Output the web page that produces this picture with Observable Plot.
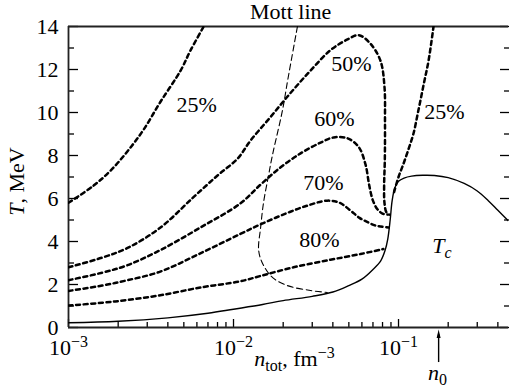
<!DOCTYPE html>
<html><head><meta charset="utf-8">
<script src="https://cdn.jsdelivr.net/npm/d3@7"></script>
<script src="https://cdn.jsdelivr.net/npm/@observablehq/plot@0.6"></script>
<style>
body{margin:0;background:#fff}
#chart svg, #chart text, #chart tspan { font-family: "Liberation Serif", "Times New Roman", serif !important; }
</style>
</head><body><div id="chart"></div>
<script>
// ---- data (n_tot in fm^-3, T in MeV) ----
const tcX = [0.001, 0.002, 0.004, 0.007, 0.01, 0.015, 0.02, 0.03, 0.04, 0.05, 0.06, 0.07, 0.078, 0.083, 0.086, 0.089, 0.0915, 0.095, 0.1, 0.108, 0.12, 0.14, 0.165, 0.2, 0.25, 0.3, 0.35, 0.4, 0.464];
const tcT = [0.22, 0.29, 0.45, 0.66, 0.85, 1.07, 1.25, 1.45, 1.65, 1.95, 2.25, 2.7, 3.1, 3.6, 4.1, 5.0, 5.9, 6.5, 6.8, 6.95, 7.04, 7.08, 7.07, 6.97, 6.7, 6.35, 5.9, 5.45, 4.95];

const mottX = [0.0244, 0.0213, 0.0198, 0.0172, 0.0163, 0.0152, 0.0146, 0.0142, 0.0150, 0.0172, 0.0212, 0.0293, 0.037];
const mottT = [14, 11.5, 10.1, 8.0, 7.07, 5.8, 4.65, 3.6, 2.98, 2.33, 1.95, 1.72, 1.63];

const p25aX = [0.001, 0.00142, 0.0018, 0.00228, 0.00285, 0.00361, 0.00478, 0.0055, 0.0066];
const p25aT = [5.8, 6.6, 7.3, 8.2, 9.2, 10.5, 11.95, 12.9, 14];

const p25bX = [0.094, 0.1, 0.107, 0.115, 0.123, 0.132, 0.142, 0.152, 0.163];
const p25bT = [6.3, 7.0, 7.6, 8.3, 9.0, 10.1, 11.3, 12.4, 14];

const p50X = [0.001, 0.0016, 0.00228, 0.00361, 0.0057, 0.008, 0.0106, 0.0127, 0.0168, 0.0221, 0.0293, 0.0387, 0.0491, 0.0573, 0.0676, 0.0778, 0.0822, 0.0828, 0.0826, 0.0818, 0.0822, 0.0845, 0.088];
const p50T = [2.8, 3.25, 3.7, 4.65, 6.05, 7.07, 7.86, 8.7, 9.8, 10.9, 11.95, 12.9, 13.4, 13.6, 13.2, 12.4, 11.2, 9.6, 7.8, 6.6, 5.8, 5.35, 5.25];

const p60X = [0.001, 0.0016, 0.00228, 0.0036, 0.0063, 0.011, 0.0146, 0.0193, 0.0255, 0.0337, 0.0405, 0.049, 0.0573, 0.063, 0.0665, 0.07, 0.0745, 0.08, 0.086];
const p60T = [2.2, 2.55, 2.9, 3.6, 4.65, 5.77, 6.65, 7.45, 8.1, 8.6, 8.84, 8.8, 8.4, 7.6, 6.6, 5.9, 5.5, 5.3, 5.25];

const p70X = [0.001, 0.0016, 0.00228, 0.0036, 0.0063, 0.011, 0.0146, 0.02, 0.0275, 0.037, 0.044, 0.051, 0.058, 0.065, 0.072, 0.078, 0.087];
const p70T = [1.7, 1.95, 2.2, 2.6, 3.45, 4.35, 4.8, 5.25, 5.65, 5.9, 5.8, 5.45, 5.1, 4.9, 4.75, 4.7, 4.65];

const p80X = [0.001, 0.0016, 0.00228, 0.0036, 0.0063, 0.011, 0.0146, 0.0231, 0.0387, 0.059, 0.081];
const p80T = [1.02, 1.15, 1.28, 1.5, 1.86, 2.15, 2.4, 2.8, 3.15, 3.42, 3.65];

// tick values
const xMajor = [0.001, 0.01, 0.1];
const xMinor = [0.002,0.003,0.004,0.005,0.006,0.007,0.008,0.009,0.02,0.03,0.04,0.05,0.06,0.07,0.08,0.09,0.2,0.3,0.4];
const yMajor = [0, 2, 4, 6, 8, 10, 12, 14];
const yMinor = [1, 3, 5, 7, 9, 11, 13];

// annotations
const labelText = ["25%", "50%", "60%", "25%", "70%", "80%", "Tc", "Mott line"];
const labelX = [0.00597, 0.0519, 0.0409, 0.190, 0.0351, 0.0332, 0.1833, 0.0222];
const labelY = [10.33, 12.26, 9.70, 10.02, 6.74, 4.09, 3.81, 14.66];

const axisTitles = [
  {t: "T, MeV", x: 0.000484, y: 6.79, r: -90},
  {t: "ntot, fm-3", x: 0.02343, y: -1.44, r: 0},
  {t: "n0", x: 0.172, y: -2.12, r: 0}
];
const n0 = [0.175];
const arrowY = [-1.63, -0.33];

// ---- build tables ----
const rows = (xs, ts, name) => xs.map((x, i) => ({x, T: ts[i], name}));
const dotted = [
  ...rows(p25aX, p25aT, "25a"), ...rows(p25bX, p25bT, "25b"),
  ...rows(p50X, p50T, "50"), ...rows(p60X, p60T, "60"),
  ...rows(p70X, p70T, "70"), ...rows(p80X, p80T, "80")
];
const labels = labelText.map((t, i) => ({t, x: labelX[i], y: labelY[i]}));
const arrowData = n0.map(x => ({x, y1: arrowY[0], y2: arrowY[1]}));

const thinTri = {draw(ctx) { ctx.moveTo(0, -5); ctx.lineTo(2, 3.5); ctx.lineTo(-2, 3.5); ctx.closePath(); }};
const supFmt = d => "10^" + String(Math.round(Math.log10(d))).replace("-", "\u2212");
const FONT = "Liberation Serif";

const chart = Plot.plot({
  width: 509, height: 391,
  marginLeft: 68, marginRight: 1, marginTop: 26, marginBottom: 64,
  x: {type: "log", domain: [0.001, 0.464], label: null},
  y: {domain: [0, 14], label: null},
  style: {fontFamily: FONT, fontSize: "22px", background: "#fff", color: "#000"},
  marks: [
    Plot.axisY({ticks: yMajor, anchor: "left", tickSize: -10, tickPadding: 20, tickFormat: d => String(d), strokeWidth: 1.3, label: null, fontSize: 22}),
    Plot.axisY({ticks: yMinor, anchor: "left", tickSize: -6, tickFormat: () => "", strokeWidth: 1.3, label: null}),
    Plot.axisY({ticks: yMajor, anchor: "right", tickSize: -9, tickFormat: () => "", strokeWidth: 1.3, label: null}),
    Plot.axisY({ticks: yMinor, anchor: "right", tickSize: -5, tickFormat: () => "", strokeWidth: 1.3, label: null}),
    Plot.axisX({ticks: xMajor, anchor: "bottom", tickSize: -8, tickPadding: 20, tickFormat: supFmt, strokeWidth: 1.3, label: null, fontSize: 22}),
    Plot.axisX({ticks: xMinor, anchor: "bottom", tickSize: -5, tickFormat: () => "", strokeWidth: 1.3, label: null}),
    Plot.ruleX([0.001], {stroke: "#222", strokeWidth: 1.8}),
    Plot.ruleY([0, 14], {stroke: "#222", strokeWidth: 1.8}),
    Plot.line(rows(tcX, tcT, "tc"), {x: "x", y: "T", curve: "catmull-rom", stroke: "#000", strokeWidth: 1.4, clip: true}),
    Plot.line(rows(mottX, mottT, "mott"), {x: "x", y: "T", curve: "catmull-rom", stroke: "#000", strokeWidth: 1.1, strokeDasharray: "6,3.5", clip: true}),
    Plot.line(dotted, {x: "x", y: "T", z: "name", curve: "catmull-rom", stroke: "#000", strokeWidth: 2.5, strokeDasharray: "4,3.6", clip: true}),
    Plot.text(labels, {x: "x", y: "y", text: "t", fontSize: 22, fontFamily: FONT}),
    Plot.text(axisTitles, {x: "x", y: "y", text: "t", rotate: "r", fontSize: 22, fontFamily: FONT}),
    Plot.ruleX(arrowData, {x: "x", y1: "y1", y2: "y2", strokeWidth: 1.4}),
    Plot.dot(arrowData, {x: "x", y: "y2", symbol: thinTri, fill: "#000", stroke: null, r: 3})
  ]
});
document.getElementById("chart").appendChild(chart);

// rich text: superscripts / subscripts / italics
const svg = chart.tagName.toLowerCase() === "svg" ? chart : chart.querySelector("svg");
svg.querySelectorAll("text").forEach(t => {
  const s = t.textContent;
  let m;
  if ((m = s.match(/^10\^(.+)$/))) {
    t.innerHTML = `10<tspan dy="-8" font-size="16">${m[1]}</tspan>`;
  } else if (s === "T, MeV") {
    t.innerHTML = `<tspan font-style="italic">T</tspan>, MeV`;
  } else if (s === "Tc") {
    t.innerHTML = `<tspan font-style="italic">T</tspan><tspan font-style="italic" font-size="16" dy="5">c</tspan>`;
  } else if (s === "ntot, fm-3") {
    t.innerHTML = `<tspan font-style="italic">n</tspan><tspan font-size="16" dy="5">tot</tspan><tspan dy="-5">, fm</tspan><tspan font-size="16" dy="-8">\u22123</tspan>`;
  } else if (s === "n0") {
    t.innerHTML = `<tspan font-style="italic">n</tspan><tspan font-size="16" dy="5">0</tspan>`;
  }
});
</script></body></html>
